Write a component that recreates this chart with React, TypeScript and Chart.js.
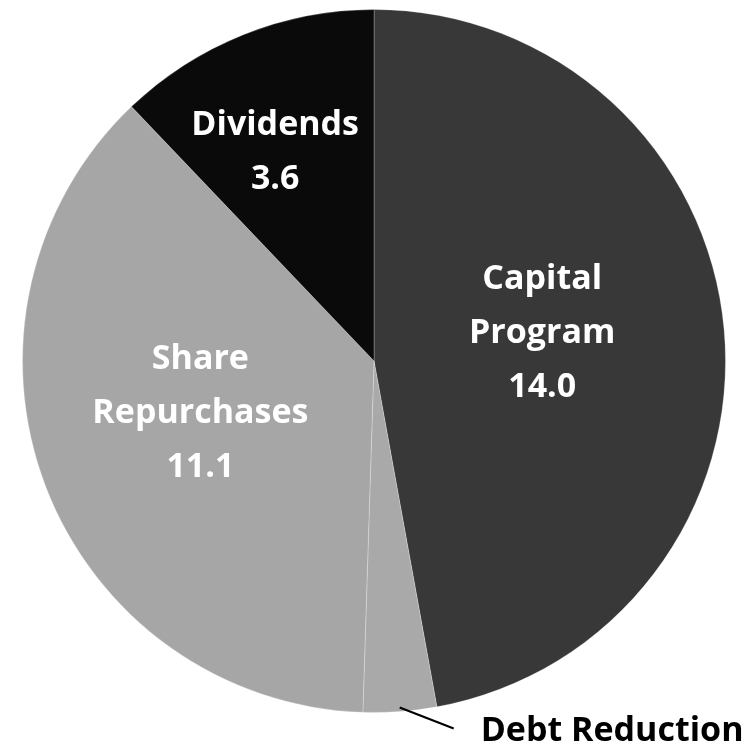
import React, { useEffect, useRef } from "react";
import { Chart, registerables } from "chart.js";

Chart.register(...registerables);

const categories: string[] = ["Capital Program", "Debt Reduction", "Share Repurchases", "Dividends"];
const values: number[] = [14.0, 1.0, 11.1, 3.6];
const labelLines: string[][] = [["Capital", "Program", "14.0"], [], ["Share", "Repurchases", "11.1"], ["Dividends", "3.6"]];
const sliceColors: string[] = ["#383838", "#a9a9a9", "#a6a6a6", "#0a0a0a"];

// label placement: fraction along slice angle, fraction of radius
const labelAngleFrac: number[] = [0.471, 0.5, 0.536, 0.424];
const labelRadiusFrac: number[] = [0.486, 1, 0.514, 0.662];

const FONT_FAMILY = "'Open Sans', sans-serif";
const FONT_SIZE = 34;
const LINE_H = 54;

const labelPlugin = {
  id: "sliceLabels",
  afterDatasetsDraw(chart: any) {
    const ctx = chart.ctx as CanvasRenderingContext2D;
    const meta = chart.getDatasetMeta(0);
    ctx.save();
    ctx.font = `bold ${FONT_SIZE}px ${FONT_FAMILY}`;
    const cap = FONT_SIZE * 0.714;
    meta.data.forEach((arc: any, i: number) => {
      const p = arc.getProps(["x", "y", "startAngle", "endAngle", "outerRadius"], true);
      if (i === 1) {
        const mid = (p.startAngle + p.endAngle) / 2;
        const sx = p.x + Math.cos(mid) * (p.outerRadius - 4);
        const sy = p.y + Math.sin(mid) * (p.outerRadius - 4);
        const ex = sx + 54;
        const ey = sy + 21;
        ctx.strokeStyle = "#000";
        ctx.lineWidth = 2;
        ctx.beginPath();
        ctx.moveTo(sx, sy);
        ctx.lineTo(ex, ey);
        ctx.stroke();
        ctx.fillStyle = "#000";
        ctx.textAlign = "left";
        ctx.textBaseline = "alphabetic";
        ctx.fillText(categories[1], ex + 27, ey + 12);
        return;
      }
      const ang = p.startAngle + (p.endAngle - p.startAngle) * labelAngleFrac[i];
      const r = p.outerRadius * labelRadiusFrac[i];
      const cx = p.x + Math.cos(ang) * r;
      const cy = p.y + Math.sin(ang) * r;
      const lines = labelLines[i];
      ctx.fillStyle = "#ffffff";
      ctx.textAlign = "center";
      ctx.textBaseline = "alphabetic";
      lines.forEach((t, k) => {
        const y = cy - ((lines.length - 1) * LINE_H) / 2 + k * LINE_H + cap / 2;
        ctx.fillText(t, cx, y);
      });
    });
    ctx.restore();
  },
};

export default function App() {
  const ref = useRef<HTMLCanvasElement | null>(null);
  useEffect(() => {
    if (!ref.current) return;
    const chart = new Chart(ref.current, {
      type: "pie",
      data: {
        labels: categories,
        datasets: [
          {
            data: values,
            backgroundColor: sliceColors,
            borderColor: "rgba(255,255,255,0.25)",
            borderWidth: 1,
          },
        ],
      },
      options: {
        responsive: false,
        animation: false,
        layout: { padding: { top: 9, bottom: 31, left: 22, right: 22 } },
        plugins: {
          legend: { display: false },
          tooltip: { enabled: false },
        },
      },
      plugins: [labelPlugin],
    });
    return () => chart.destroy();
  }, []);
  return (
    <div style={{ position: "absolute", left: 0, top: 0, width: 748, height: 744, background: "#fff" }}>
      <canvas ref={ref} width={748} height={744} style={{ display: "block" }} />
    </div>
  );
}
